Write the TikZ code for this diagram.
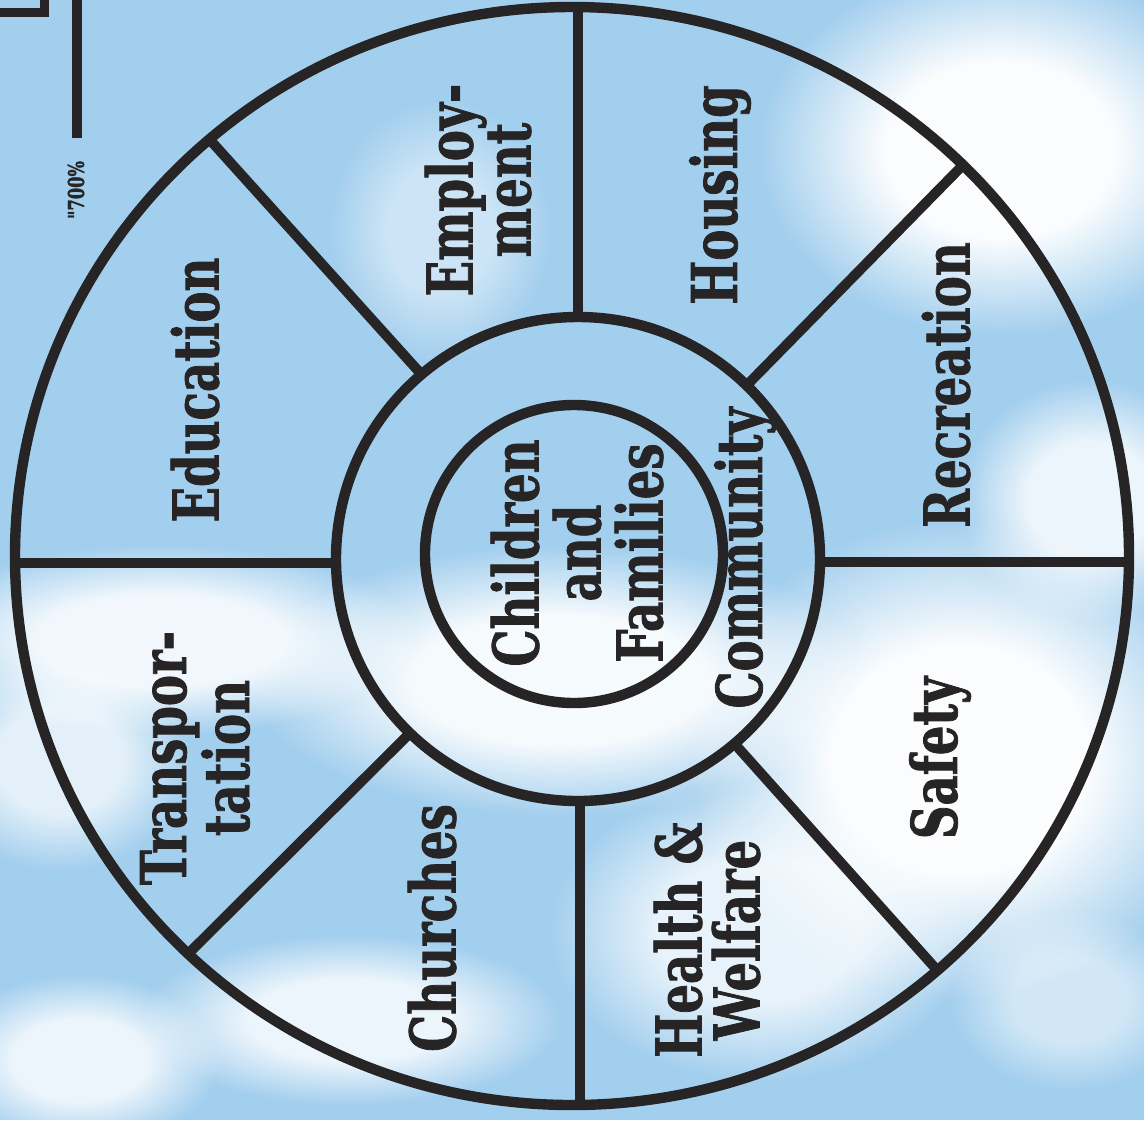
\documentclass[tikz,border=0pt]{standalone}
\usepackage{fontspec}
\newfontfamily\lab[FakeStretch=0.74,FakeBold=1.2]{DejaVu Serif}
\usetikzlibrary{fadings}
\definecolor{sky}{RGB}{163,207,238}
\definecolor{ink}{RGB}{38,36,36}
\pgfdeclareradialshading{cloudsh}{\pgfpoint{0bp}{0bp}}{%
  color(0bp)=(white); color(12bp)=(white);
  color(25bp)=(black); color(50bp)=(black)}
\pgfdeclarefading{cloudfade}{\pgfuseshading{cloudsh}}
\begin{document}
\begin{tikzpicture}[x=0.5pt,y=-0.5pt,
  ring/.style={draw=ink, line width=5.2pt},
  spoke/.style={draw=ink, line width=5pt},
  lbl/.style={font=\lab\bfseries\fontsize{31.5}{29}\selectfont, rotate=90, align=center, text=ink, inner sep=0pt},
  ctr/.style={lbl, font=\lab\bfseries\fontsize{31.5}{31}\selectfont},
  cloud/.style={fill=white, path fading=cloudfade}]
\useasboundingbox (0,0) rectangle (1144,1120);
\fill[sky] (0,0) rectangle (1144,1120);
% clouds
\foreach \cx/\cy/\rx/\ry/\op in {
  1000/150/240/185/0.95,
  1090/500/130/120/0.8,
  960/760/270/240/0.95,
  560/680/310/135/0.9,
  160/640/260/95/0.85,
  760/930/210/150/0.75,
  350/1020/210/85/0.8,
  80/1060/140/85/0.8,
  60/760/130/110/0.7,
  440/230/110/130/0.45,
  1070/1000/120/90/0.5}{
  \fill[cloud, opacity=\op] (\cx,\cy) ellipse [x radius=\rx, y radius=\ry];
}
% scan fragments
\draw[ink, line width=4.5pt] (0,12) -- (44,12) -- (44,0);
\draw[ink, line width=5pt] (77,0) -- (77,138);
\node[rotate=90, text=ink, inner sep=0pt, font=\lab\bfseries\fontsize{11}{11}\selectfont] (frag) at (76,190) {"700\%};
% circles
\draw[ring] (572,556) ellipse [x radius=557, y radius=549];
\draw[ring] (578,559) circle [radius=242];
\draw[ring] (574,554) circle [radius=149];
% spokes
\coordinate (oL) at (15,563);   \coordinate (mL) at (336,563);
\coordinate (oR) at (1129,562); \coordinate (mR) at (820,562);
\coordinate (oT) at (578,7);    \coordinate (mT) at (578,317);
\coordinate (oB) at (580,1105); \coordinate (mB) at (580,801);
\coordinate (oUL) at (211,141); \coordinate (mUL) at (422,375);
\coordinate (oUR) at (963,165); \coordinate (mUR) at (747,385);
\coordinate (oLL) at (190,952); \coordinate (mLL) at (410,733);
\coordinate (oLR) at (937,970); \coordinate (mLR) at (733,742);
\foreach \p in {L,R,T,B,UL,UR,LL,LR}{
  \draw[spoke] (o\p) -- (m\p);
}
% labels
\node[lbl] (edu) at (195,390) {Education};
\node[lbl] (emp) at (478,190) {Employ-\\ment};
\node[lbl] (hou) at (720,195) {Housing};
\node[lbl] (rec) at (946,385) {Recreation};
\node[lbl] (saf) at (940,758) {Safety};
\node[lbl] (hw) at (707,940) {Health \&\\Welfare};
\node[lbl] (chu) at (432,928) {Churches};
\node[lbl] (tra) at (195,758) {Transpor-\\tation};
\node[lbl] (com) at (745,558) {Community};
\node[ctr] (cf) at (577,553) {Children\\and\\Families};
\end{tikzpicture}
\end{document}
